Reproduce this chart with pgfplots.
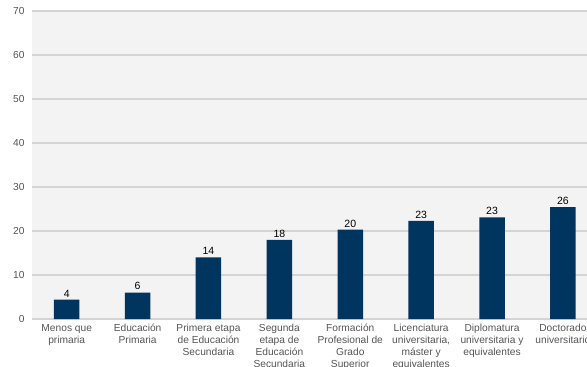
\documentclass[border=0pt]{standalone}
\usepackage{pgfplots}
\pgfplotsset{compat=1.18}
\usepackage{fontspec}
\setmainfont{Liberation Sans}
\definecolor{barblue}{HTML}{00355F}
\definecolor{bg}{HTML}{F3F3F3}
\definecolor{gridc}{HTML}{D4D4D4}
\definecolor{txt}{HTML}{555555}
\begin{document}
\begin{tikzpicture}
\begin{axis}[
  scale only axis,
  width=555pt, height=308pt,
  xmin=-0.49, xmax=7.34,
  ymin=0, ymax=70,
  ytick={0,10,...,70},
  axis background/.style={fill=bg},
  axis line style={draw=none},
  major grid style={draw=gridc, line width=1.2pt},
  ymajorgrids,
  tick style={draw=none},
  xtick={0,...,7},
  xticklabels={
    {Menos que\\primaria},
    {Educación\\Primaria},
    {Primera etapa\\de Educación\\Secundaria},
    {Segunda\\etapa de\\Educación\\Secundaria},
    {Formación\\Profesional de\\Grado\\Superior},
    {Licenciatura\\universitaria,\\máster y\\equivalentes},
    {Diplomatura\\universitaria y\\equivalentes},
    {Doctorado\\universitario}},
  xticklabel style={align=center, font=\fontsize{10.2}{12}\selectfont, text=txt, anchor=north, yshift=-1.5pt},
  yticklabel style={font=\fontsize{10.2}{12}\selectfont, text=txt, xshift=-4pt},
  /pgf/number format/assume math mode=true,
  clip=false,
]
\addplot[ybar, bar width=25.5pt, fill=barblue, draw=none,
  nodes near coords=\pgfplotspointmeta,
  point meta=explicit symbolic,
  nodes near coords style={font=\fontsize{10.5}{12}\selectfont, text=black, yshift=-1pt}]
  table[meta=lab] {
x y lab
0 4.4 4
1 6.0 6
2 14.0 14
3 18.0 18
4 20.3 20
5 22.3 23
6 23.1 23
7 25.4 26
};
\end{axis}
\pgfresetboundingbox
\useasboundingbox (-32pt,-48pt) rectangle (555pt,319pt);
\end{tikzpicture}
\end{document}
